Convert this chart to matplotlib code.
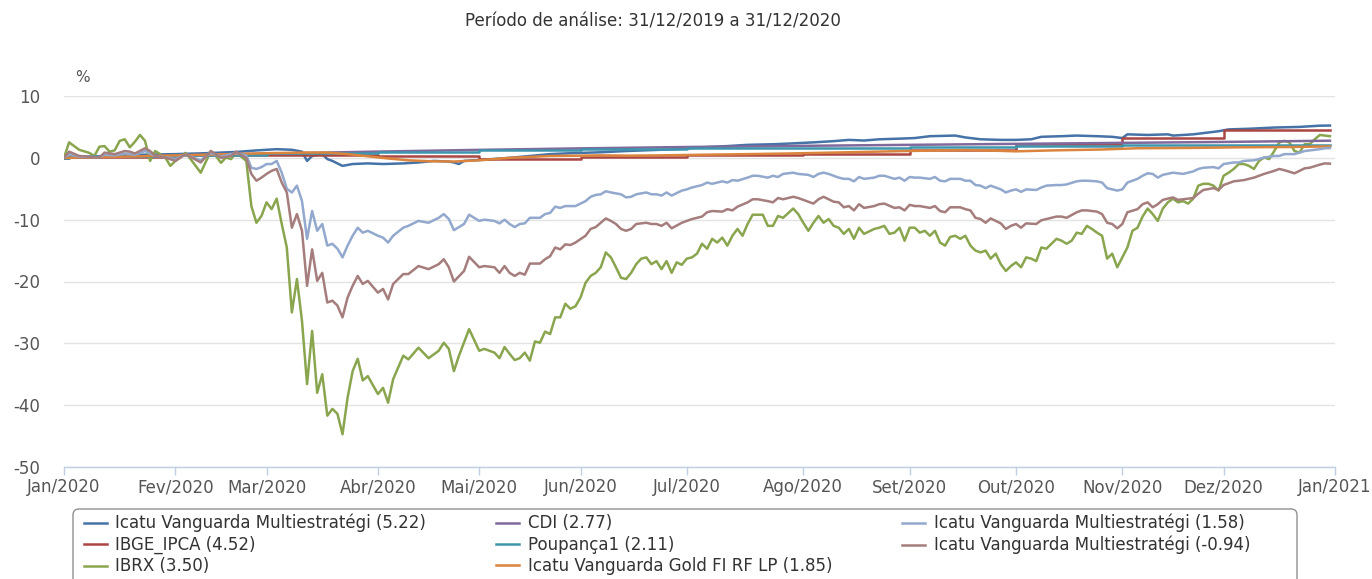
import matplotlib
matplotlib.use("Agg")
import matplotlib.pyplot as plt
from matplotlib.patches import FancyBboxPatch

plt.rcParams['font.family'] = ['DejaVu Sans']

# ---------------- data ----------------
title = "Período de análise: 31/12/2019 a 31/12/2020"
y_unit = "%"
month_days = [0, 22, 40, 62, 82, 102, 123, 146, 167, 188, 209, 229, 251]
month_labels = ["Jan/2020", "Fev/2020", "Mar/2020", "Abr/2020", "Mai/2020", "Jun/2020",
                "Jul/2020", "Ago/2020", "Set/2020", "Out/2020", "Nov/2020", "Dez/2020", "Jan/2021"]
y_ticks = [10, 0, -10, -20, -30, -40, -50]

names = ["Icatu Vanguarda Multiestratégi (5.22)", "IBGE_IPCA (4.52)", "IBRX (3.50)",
         "CDI (2.77)", "Poupança1 (2.11)", "Icatu Vanguarda Gold FI RF LP (1.85)",
         "Icatu Vanguarda Multiestratégi (1.58)", "Icatu Vanguarda Multiestratégi (-0.94)"]
colors = ["#4572A7", "#AA4643", "#89A54E", "#80699B", "#3D96AE", "#DB843D", "#92A8CD", "#A47D7C"]

multi522_days = [0, 5, 10, 15, 22, 28, 34, 38, 42, 45, 47, 48, 49, 51, 52, 53, 55, 57, 60, 63, 67, 70,
                 73, 76, 77, 78, 79, 83, 88, 92, 96, 100, 106, 111, 116, 121, 126, 131, 135, 140, 143,
                 148, 152, 155, 158, 161, 165, 168, 171, 176, 178, 181, 185, 188, 191, 193, 197, 200,
                 204, 207, 209, 210, 214, 218, 219, 223, 226, 228, 230, 234, 239, 244, 248, 250]
multi522_vals = [0, 0.2, 0.35, 0.5, 0.6, 0.75, 0.95, 1.2, 1.4, 1.3, 1.0, -0.5, 0.3, 0.6, -0.2, -0.5,
                 -1.3, -1.0, -0.9, -1.0, -0.9, -0.75, -0.5, -0.6, -0.75, -1.0, -0.5, -0.3, 0.0, 0.3,
                 0.6, 0.75, 0.9, 1.1, 1.25, 1.4, 1.7, 1.9, 2.1, 2.2, 2.3, 2.5, 2.7, 2.9, 2.8, 3.0, 3.1,
                 3.2, 3.5, 3.6, 3.3, 3.0, 2.9, 2.9, 3.0, 3.4, 3.5, 3.6, 3.5, 3.4, 3.2, 3.8, 3.7, 3.8,
                 3.6, 3.8, 4.1, 4.3, 4.6, 4.7, 4.9, 5.0, 5.2, 5.22]

ipca_days = [0, 1, 22, 40, 62, 82, 102, 123, 146, 167, 188, 209, 229, 250]
ipca_vals = [0, 0.21, 0.46, 0.53, 0.22, -0.16, 0.10, 0.46, 0.70, 1.34, 2.22, 3.13, 4.52, 4.52]

ibrx_days = [0, 1, 3, 5, 6, 7, 8, 9, 10, 11, 12, 13, 14, 15, 16, 17, 18, 19, 20, 21, 22, 24, 25, 27,
             29, 30, 31, 32, 33, 34, 35, 36, 37, 38, 39, 40, 41, 42, 43, 44, 45, 46, 47, 48, 49, 50,
             51, 52, 53, 54, 55, 56, 57, 58, 59, 60, 62, 63, 64, 65, 67, 68, 70, 72, 74, 75, 76, 77,
             78, 80, 82, 83, 85, 86, 87, 88, 89, 90, 91, 92, 93, 94, 95, 96, 97, 98, 99, 100, 101,
             102, 103, 104, 105, 106, 107, 108, 109, 110, 111, 112, 113, 114, 115, 116, 117, 118,
             119, 120, 121, 122, 123, 124, 125, 126, 127, 128, 129, 130, 131, 132, 133, 134, 135,
             136, 138, 139, 140, 141, 142, 144, 145, 146, 147, 148, 149, 150, 151, 152, 153, 154,
             155, 156, 157, 158, 160, 161, 162, 163, 164, 165, 166, 167, 168, 169, 170, 171, 172,
             173, 174, 175, 176, 177, 178, 179, 180, 181, 182, 183, 184, 185, 186, 187, 188, 189,
             190, 191, 192, 193, 194, 195, 196, 197, 198, 199, 200, 201, 202, 203, 204, 205, 206,
             207, 208, 209, 210, 211, 212, 213, 214, 215, 216, 217, 218, 219, 220, 221, 222, 223,
             224, 225, 226, 227, 228, 229, 230, 231, 232, 233, 234, 235, 236, 237, 238, 239, 240,
             241, 242, 243, 244, 245, 246, 247, 248, 249, 250]
ibrx_vals = [0, 2.5, 1.3, 0.8, 0.3, 1.8, 1.9, 1.0, 1.2, 2.75, 3.0, 1.7, 2.6, 3.7, 2.75, -0.5, 1.1,
             0.6, 0.05, -1.3, -0.5, 0.8, -0.2, -2.4, 1.1, 0.3, -0.8, 0.05, -0.2, 0.85, 0.2, -0.5,
             -7.8, -10.5, -9.4, -7.2, -8.3, -6.6, -10.7, -14.5, -25, -19.6, -26.4, -36.6, -28, -38,
             -35, -41.7, -40.6, -41.4, -44.7, -38.8, -34.5, -32.5, -36, -35.3, -38.2, -37.2, -39.6,
             -35.8, -32, -32.6, -30.7, -32.4, -31.2, -29.9, -30.9, -34.5, -32, -27.7, -31.2, -30.9,
             -31.5, -32.4, -30.6, -31.7, -32.7, -32.4, -31.5, -32.8, -29.7, -29.9, -28.1, -28.5,
             -25.8, -25.8, -23.6, -24.4, -24, -22.6, -20.2, -19.1, -18.6, -17.7, -15.3, -16.1,
             -17.7, -19.4, -19.6, -18.6, -17.2, -16.3, -16.1, -17.2, -16.7, -18, -16.7, -18.6,
             -16.9, -17.3, -16.3, -16.1, -15.5, -13.9, -14.7, -13.1, -13.7, -12.9, -14.2, -12.6,
             -11.5, -12.6, -10.7, -9.2, -9.2, -11, -11, -9.4, -9.7, -8.2, -9.1, -10.5, -11.8, -10.5,
             -9.4, -10.5, -9.9, -11, -11.3, -12.3, -11.5, -13.1, -11.3, -12.3, -11.5, -11.3, -11,
             -12.3, -12.1, -11.3, -13.4, -11.3, -11.3, -12.1, -11.8, -12.6, -11.8, -13.7, -14.2,
             -12.8, -12.6, -13.1, -12.6, -14.2, -15, -15.3, -15, -16.3, -15.5, -17.2, -18.3, -17.5,
             -16.9, -17.7, -16.1, -16.3, -16.7, -14.5, -14.7, -13.9, -13.1, -13.4, -13.9, -13.4,
             -12.1, -12.3, -11, -11.5, -12.1, -12.6, -16.3, -15.5, -17.7, -16.1, -14.5, -11.8,
             -11.3, -9.5, -8.2, -9.1, -10.2, -8.2, -7.2, -6.6, -7.2, -7, -7.4, -6.6, -4.5, -4.2,
             -4.2, -4.5, -5.3, -2.9, -2.4, -1.8, -1.0, -1.0, -1.3, -1.8, -0.5, 0.05, -0.2, 1.1, 2.5,
             2.75, 2.5, 1.1, 0.85, 2.2, 2.2, 3.0, 3.7, 3.6, 3.5]

cdi_days = [0, 22, 40, 62, 82, 102, 123, 146, 167, 188, 209, 229, 250]
cdi_vals = [0, 0.38, 0.67, 1.01, 1.29, 1.53, 1.75, 1.94, 2.10, 2.26, 2.42, 2.57, 2.77]

poup_days = [0, 1, 22, 40, 62, 82, 102, 123, 146, 167, 188, 209, 229, 250]
poup_vals = [0, 0.26, 0.52, 0.78, 1.00, 1.22, 1.39, 1.52, 1.65, 1.77, 1.89, 2.01, 2.11, 2.11]

gold_days = [0, 10, 20, 30, 40, 47, 52, 56, 60, 64, 68, 72, 77, 82, 88, 92, 96, 102, 106, 112, 118,
             126, 135, 143, 155, 166, 178, 184, 188, 195, 205, 212, 222, 232, 242, 250]
gold_vals = [0, 0.15, 0.35, 0.55, 0.75, 0.85, 0.85, 0.6, 0.25, -0.1, -0.4, -0.55, -0.6, -0.4, 0.0,
             0.15, 0.3, 0.35, 0.4, 0.35, 0.4, 0.5, 0.6, 0.7, 0.9, 1.1, 1.25, 1.15, 1.05, 1.2, 1.35,
             1.55, 1.6, 1.7, 1.75, 1.85]

multi158_days = [0, 1, 3, 7, 8, 10, 12, 14, 16, 17, 18, 20, 22, 24, 27, 29, 31, 34, 36, 37, 38, 39,
                 40, 41, 42, 43, 44, 45, 46, 47, 48, 49, 50, 51, 52, 53, 54, 55, 56, 57, 58, 59, 60,
                 62, 63, 64, 65, 67, 68, 70, 72, 74, 75, 76, 77, 79, 80, 82, 83, 85, 86, 87, 88, 89,
                 90, 91, 92, 94, 95, 96, 97, 98, 99, 101, 102, 103, 104, 105, 106, 107, 108, 110,
                 111, 112, 113, 115, 116, 117, 118, 119, 120, 122, 123, 124, 126, 127, 128, 130, 131,
                 132, 133, 135, 136, 137, 139, 140, 141, 142, 143, 144, 145, 147, 148, 149, 150, 151,
                 152, 153, 154, 155, 156, 157, 158, 160, 161, 162, 164, 165, 166, 167, 168, 169, 171,
                 172, 173, 174, 175, 177, 178, 179, 180, 181, 182, 183, 185, 186, 187, 188, 189, 190,
                 192, 193, 194, 196, 197, 198, 200, 201, 202, 204, 205, 206, 207, 208, 209, 210, 212,
                 213, 214, 215, 216, 217, 219, 220, 221, 223, 224, 225, 227, 228, 229, 231, 232, 233,
                 235, 236, 237, 239, 240, 241, 243, 244, 245, 246, 248, 249, 250]
multi158_vals = [0, 0.6, 0.2, 0.1, 0.5, 0.4, 0.7, 0.5, 1.1, 0.7, 0.3, 0.1, -0.2, 0.5, -0.4, 0.8, 0.2,
                 0.8, 0.4, -1.6, -1.8, -1.5, -1.0, -1.0, -0.5, -2.4, -5.0, -5.6, -4.5, -7.0, -13.1,
                 -8.6, -11.8, -10.7, -14.2, -13.9, -14.7, -16.1, -14.2, -12.6, -11.3, -12.1, -11.8,
                 -12.6, -12.9, -13.7, -12.6, -11.3, -11, -10.2, -10.5, -9.7, -9.1, -9.9, -11.7,
                 -10.7, -9.2, -10.2, -10.0, -10.2, -10.6, -10.0, -10.7, -11.2, -10.7, -10.6, -9.7,
                 -9.7, -9.1, -8.9, -7.9, -8.1, -7.8, -7.8, -7.4, -7.0, -6.3, -6.0, -5.9, -5.4, -5.6,
                 -5.9, -6.4, -6.3, -5.9, -5.6, -5.9, -5.9, -6.1, -5.6, -6.1, -5.3, -5.1, -4.8, -4.4,
                 -4.0, -4.2, -3.8, -4.0, -3.6, -3.7, -3.2, -2.9, -2.9, -3.2, -2.9, -3.1, -2.6, -2.5,
                 -2.4, -2.6, -2.75, -3.1, -2.6, -2.4, -2.6, -2.9, -3.2, -3.4, -3.4, -3.8, -3.1, -3.4,
                 -3.2, -2.9, -2.9, -3.4, -3.2, -3.7, -3.1, -3.2, -3.2, -3.4, -3.1, -3.7, -3.8, -3.4,
                 -3.4, -3.7, -3.7, -4.4, -4.5, -4.9, -4.5, -5.1, -5.6, -5.3, -5.1, -5.5, -5.1, -5.2,
                 -4.8, -4.5, -4.4, -4.4, -4.3, -3.8, -3.7, -3.7, -3.8, -4.0, -4.9, -5.1, -5.3, -5.1,
                 -4.0, -3.4, -2.9, -2.5, -2.6, -3.2, -2.75, -2.4, -2.5, -2.6, -2.2, -1.8, -1.6, -1.5,
                 -1.7, -1.0, -0.75, -0.75, -0.5, -0.4, -0.2, 0.05, 0.3, 0.3, 0.6, 0.6, 0.85, 1.1, 1.2,
                 1.4, 1.55, 1.58]

multi094_days = [0, 1, 3, 7, 8, 10, 12, 13, 14, 16, 17, 18, 20, 22, 24, 27, 29, 31, 33, 34, 36, 37,
                 38, 39, 40, 41, 42, 43, 44, 45, 46, 47, 48, 49, 50, 51, 52, 53, 54, 55, 56, 57, 58,
                 59, 60, 62, 63, 64, 65, 67, 68, 70, 72, 74, 75, 76, 77, 79, 80, 82, 83, 85, 86, 87,
                 88, 89, 90, 91, 92, 94, 95, 96, 97, 98, 99, 100, 101, 103, 104, 105, 106, 107, 108,
                 109, 110, 111, 112, 113, 115, 116, 117, 118, 119, 120, 122, 123, 124, 126, 127, 128,
                 130, 131, 132, 133, 135, 136, 137, 139, 140, 141, 142, 143, 144, 145, 147, 148, 149,
                 150, 151, 152, 153, 154, 155, 156, 157, 158, 160, 161, 162, 164, 165, 166, 167, 168,
                 169, 171, 172, 173, 174, 175, 177, 178, 179, 180, 181, 182, 183, 185, 186, 187, 188,
                 189, 190, 192, 193, 194, 196, 197, 198, 200, 201, 202, 204, 205, 206, 207, 208, 209,
                 210, 212, 213, 214, 215, 216, 217, 219, 220, 221, 223, 224, 225, 227, 228, 229, 231,
                 232, 233, 235, 236, 237, 239, 240, 241, 243, 244, 245, 246, 248, 249, 250]
multi094_vals = [0, 1.0, 0.3, 0.05, 0.85, 0.6, 1.1, 1.0, 0.7, 1.55, 1.1, 0.3, 0.05, -0.5, 0.6, -0.75,
                 1.1, 0.0, 0.3, 1.0, -0.05, -2.6, -3.7, -3.2, -2.6, -2.1, -1.8, -4.0, -5.6, -11.3,
                 -9.1, -11.8, -20.7, -14.8, -19.9, -18.6, -23.4, -23.1, -23.9, -25.8, -22.6, -20.7,
                 -19.1, -20.4, -19.9, -21.8, -21.2, -22.9, -20.4, -18.8, -18.8, -17.5, -18.0, -17.2,
                 -16.4, -17.7, -20.0, -18.3, -16.0, -17.7, -17.5, -17.7, -18.6, -17.5, -18.6, -19.1,
                 -18.6, -18.9, -17.1, -17.1, -16.4, -15.9, -14.5, -14.8, -14.0, -14.1, -13.7, -12.6,
                 -11.5, -11.2, -10.5, -9.8, -10.2, -10.7, -11.5, -11.8, -11.5, -10.7, -10.5, -10.7,
                 -10.7, -11.0, -10.5, -11.4, -10.5, -10.2, -9.9, -9.5, -8.8, -8.6, -8.7, -8.3, -8.5,
                 -7.9, -7.2, -6.7, -6.7, -7.0, -7.2, -6.5, -6.7, -6.5, -6.3, -6.5, -7.1, -7.4, -6.7,
                 -6.3, -6.7, -7.1, -7.2, -8.0, -7.8, -8.5, -7.5, -8.1, -7.8, -7.5, -7.4, -8.1, -8.0,
                 -8.5, -7.6, -7.8, -7.8, -8.1, -7.8, -8.6, -8.8, -8.0, -8.0, -8.3, -8.5, -9.7, -9.9,
                 -10.5, -9.8, -10.6, -11.5, -11.0, -10.7, -11.3, -10.6, -10.7, -10.1, -9.9, -9.5,
                 -9.5, -9.7, -8.8, -8.5, -8.5, -8.7, -9.1, -10.5, -10.7, -11.4, -10.7, -8.8, -8.3,
                 -7.5, -7.2, -8.0, -7.5, -6.8, -6.4, -6.8, -6.7, -6.5, -5.8, -5.2, -4.9, -5.2, -4.4,
                 -3.8, -3.7, -3.6, -3.2, -2.9, -2.6, -2.1, -1.8, -2.0, -2.5, -2.1, -1.7, -1.6, -1.1,
                 -0.9, -0.94]

# ---------------- figure ----------------
W, H = 1372, 579
fig = plt.figure(figsize=(W / 100, H / 100), dpi=100)
ax = fig.add_axes([64 / W, 1 - 467 / H, (1335 - 64) / W, (467 - 96) / H])

lw = 1.8
series = [
    (multi522_days, multi522_vals, None),
    (ipca_days, ipca_vals, 'post'),
    (ibrx_days, ibrx_vals, None),
    (cdi_days, cdi_vals, None),
    (poup_days, poup_vals, 'post'),
    (gold_days, gold_vals, None),
    (multi158_days, multi158_vals, None),
    (multi094_days, multi094_vals, None),
]
handles = []
for (d, v, step), c, n in zip(series, colors, names):
    if step:
        h, = ax.step(d, v, where=step, color=c, lw=lw, label=n, solid_joinstyle='round')
    else:
        h, = ax.plot(d, v, color=c, lw=lw, label=n, solid_joinstyle='round')
    handles.append(h)

ax.set_xlim(month_days[0], month_days[-1])
ax.set_ylim(-50, 10)
ax.set_xticks(month_days)
ax.set_xticklabels(month_labels)
ax.set_yticks(y_ticks)
ax.set_yticklabels([str(t) for t in y_ticks])

for s in ['top', 'right', 'left']:
    ax.spines[s].set_visible(False)
ax.spines['bottom'].set_color('#C0D0E0')
ax.spines['bottom'].set_linewidth(1.0)
ax.grid(axis='y', color='#E3E3E3', lw=1.0)
ax.set_axisbelow(True)
ax.tick_params(axis='x', colors='#C0D0E0', length=6, width=1.0, pad=2,
               labelcolor='#555555', labelsize=12)
ax.tick_params(axis='y', length=0, pad=17, labelcolor='#555555', labelsize=12)

fig.text(653 / W, 1 - 22 / H, title, ha='center', va='center', fontsize=12, color='#333333')
fig.text(82 / W, 1 - 78 / H, y_unit, ha='center', va='center', fontsize=11, color='#555555')

# legend frame
frame = FancyBboxPatch((0.73, -0.3), 12.24, (579 - 509) / 100 + 0.3,
                       boxstyle="round,pad=0,rounding_size=0.06",
                       transform=fig.dpi_scale_trans, facecolor='white',
                       edgecolor='#909090', lw=1.0)
fig.patches.append(frame)

leg = fig.legend(handles=handles, labels=names, ncol=3, loc='upper left',
                 bbox_to_anchor=(84 / W, 1 - 514 / H, (1250 - 84) / W, 0.0),
                 mode='expand', frameon=False, fontsize=12, borderaxespad=0, borderpad=0,
                 handlelength=1.38, handletextpad=0.5, labelspacing=0.2)
for t in leg.get_texts():
    t.set_color('#333333')

fig.savefig("out.png", dpi=100)
